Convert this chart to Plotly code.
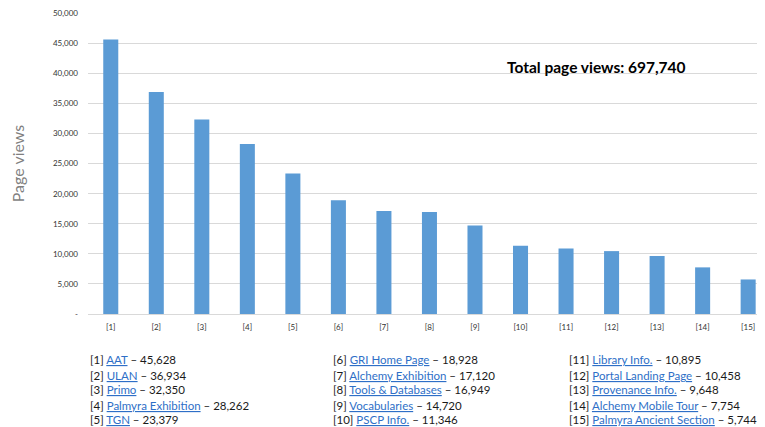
import plotly.graph_objects as go

categories = ["[1]", "[2]", "[3]", "[4]", "[5]", "[6]", "[7]", "[8]", "[9]", "[10]",
              "[11]", "[12]", "[13]", "[14]", "[15]"]
page_names = ["AAT", "ULAN", "Primo", "Palmyra Exhibition", "TGN", "GRI Home Page",
              "Alchemy Exhibition", "Tools & Databases", "Vocabularies", "PSCP Info.",
              "Library Info.", "Portal Landing Page", "Provenance Info.",
              "Alchemy Mobile Tour", "Palmyra Ancient Section"]
page_views = [45628, 36934, 32350, 28262, 23379, 18928, 17120, 16949, 14720, 11346,
              10895, 10458, 9648, 7754, 5744]
y_tick_vals = [0, 5000, 10000, 15000, 20000, 25000, 30000, 35000, 40000, 45000, 50000]
y_tick_text = ["-", "5,000", "10,000", "15,000", "20,000", "25,000", "30,000",
               "35,000", "40,000", "45,000", "50,000"]
total_views = 697740

FONT = "Lato, 'Open Sans', sans-serif"
OFF = 8  # default page body margin
W, H = 765 - OFF, 427 - OFF
# plot area in window pixels
PL, PR, PT, PB = 88, 765, 13, 314
ML, MR, MT, MB = PL - OFF, (OFF + W) - PR, PT - OFF, (OFF + H) - PB
PW, PH = PR - PL, PB - PT


def px(x):
    return (x - PL) / PW


def py(y):
    return (PB - y) / PH


fig = go.Figure(go.Bar(x=categories, y=page_views, marker_color="#5B9BD5",
                       marker_line_width=0, hoverinfo="x+y"))

fig.update_layout(
    width=W, height=H,
    margin=dict(l=ML, r=MR, t=MT, b=MB, autoexpand=False),
    paper_bgcolor="white", plot_bgcolor="white",
    bargap=0.67,
    showlegend=False,
    font=dict(family=FONT, color="#404040"),
)
fig.update_yaxes(range=[0, 50050], tickvals=y_tick_vals, ticktext=y_tick_text,
                 showgrid=True, gridcolor="#D9D9D9", gridwidth=1,
                 zeroline=False, showline=False, ticklabeloverflow="allow",
                 tickfont=dict(size=8, color="#333333", family=FONT),
                 ticks="", ticklabelstandoff=9,
                 title=dict(text="Page views", font=dict(size=16, color="#7F7F7F", family=FONT),
                            standoff=30))
fig.update_xaxes(range=[-0.5, 14.37], showline=True, linecolor="#D9D9D9", linewidth=1,
                 tickfont=dict(size=8, color="#333333", family=FONT),
                 ticks="", ticklabelstandoff=5)

fig.add_annotation(text=f"<b>Total page views: {total_views:,}</b>",
                   xref="paper", yref="paper", x=px(505), y=py(67),
                   xanchor="left", yanchor="middle",
                   showarrow=False, font=dict(size=15.5, color="#000000", family=FONT))

col_x = [88, 331, 567]
row_y0 = 360
row_dy = 15
for i, (cat, name, v) in enumerate(zip(categories, page_names, page_views)):
    col = i // 5
    row = i % 5
    txt = f"{cat} <span style='color:#2E6FC7'><u>{name}</u></span> \u2013 {v:,}"
    fig.add_annotation(text=txt, xref="paper", yref="paper",
                       x=px(col_x[col]), y=py(row_y0 + row * row_dy),
                       xanchor="left", yanchor="middle", showarrow=False,
                       font=dict(size=11.5, color="#1A1A1A", family=FONT))

fig.write_html("out.html")
